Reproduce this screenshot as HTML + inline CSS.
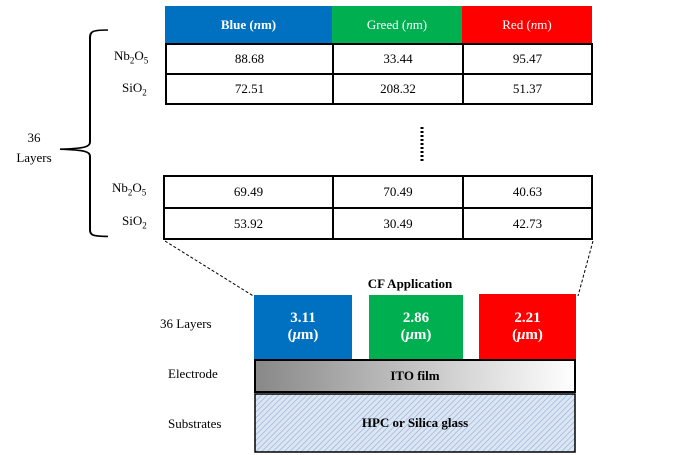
<!DOCTYPE html>
<html><head><meta charset="utf-8"><style>
body{margin:0;width:673px;height:455px;background:#fff;position:relative;overflow:hidden;font-family:"Liberation Serif",serif;}
.a{position:absolute;box-sizing:border-box;}
.c{display:flex;align-items:center;justify-content:center;text-align:center;}
.cell{border:2px solid #000;font-size:13px;}
.lbl{font-size:13px;}
</style></head><body>
<div class="a c" style="left:165px;top:6px;width:167px;height:37px;background:#0070c0;color:#fff;font-weight:bold;font-size:13px;"><span>Blue (<i>n</i>m)</span></div>
<div class="a c" style="left:332px;top:6px;width:130px;height:37px;background:#00b050;color:#fff;font-size:13px;"><span>Greed (<i>n</i>m)</span></div>
<div class="a c" style="left:462px;top:6px;width:130px;height:37px;background:#f00;color:#fff;font-size:13px;"><span>Red (<i>n</i>m)</span></div>

<div class="a c cell" style="left:165px;top:43px;width:169px;height:32px;">88.68</div>
<div class="a c cell" style="left:332px;top:43px;width:132px;height:32px;">33.44</div>
<div class="a c cell" style="left:462px;top:43px;width:131px;height:32px;">95.47</div>
<div class="a c cell" style="left:165px;top:73px;width:169px;height:32px;">72.51</div>
<div class="a c cell" style="left:332px;top:73px;width:132px;height:32px;">208.32</div>
<div class="a c cell" style="left:462px;top:73px;width:131px;height:32px;">51.37</div>

<svg class="a" style="left:419px;top:127px" width="6" height="36"><line x1="3" y1="0" x2="3" y2="36" stroke="#000" stroke-width="3" stroke-dasharray="2,2"/></svg>

<div class="a c cell" style="left:163px;top:175px;width:171px;height:34px;">69.49</div>
<div class="a c cell" style="left:332px;top:175px;width:132px;height:34px;">70.49</div>
<div class="a c cell" style="left:462px;top:175px;width:131px;height:34px;">40.63</div>
<div class="a c cell" style="left:163px;top:207px;width:171px;height:33px;">53.92</div>
<div class="a c cell" style="left:332px;top:207px;width:132px;height:33px;">30.49</div>
<div class="a c cell" style="left:462px;top:207px;width:131px;height:33px;">42.73</div>

<div class="a lbl" style="left:114px;top:48px;">Nb<sub style="font-size:9px">2</sub>O<sub style="font-size:9px">5</sub></div>
<div class="a lbl" style="left:122px;top:80px;">SiO<sub style="font-size:9px">2</sub></div>
<div class="a lbl" style="left:112px;top:180px;">Nb<sub style="font-size:9px">2</sub>O<sub style="font-size:9px">5</sub></div>
<div class="a lbl" style="left:122px;top:213px;">SiO<sub style="font-size:9px">2</sub></div>

<div class="a lbl" style="left:14px;top:128px;width:40px;text-align:center;line-height:20px;">36<br>Layers</div>

<svg class="a" style="left:0;top:0" width="673" height="455">
<path d="M108 50 C92 50 90 52 90 60 L90 190 C90 196 85 198 60 199 C85 200 90 202 90 208 L90 300 C90 306 92 308 108 308" fill="none" stroke="#000" stroke-width="2" transform="translate(0,-10) scale(1,0.8)"/>
<line x1="165" y1="241" x2="255" y2="297" stroke="#000" stroke-dasharray="3,2"/>
<line x1="593" y1="241" x2="578" y2="296" stroke="#000" stroke-dasharray="3,2"/>
<defs><pattern id="h" width="4" height="4" patternUnits="userSpaceOnUse" patternTransform="rotate(45)"><rect width="4" height="4" fill="#dce6f2"/><line x1="0" y1="0" x2="0" y2="4" stroke="#8eaadb" stroke-width="1.2"/></pattern>
<linearGradient id="g" x1="0" x2="1"><stop offset="0" stop-color="#888"/><stop offset="1" stop-color="#fff"/></linearGradient></defs>
<rect x="255" y="360" width="320" height="32" fill="url(#g)" stroke="#000" stroke-width="2"/>
<rect x="255" y="394" width="320" height="58" fill="url(#h)" stroke="#000" stroke-width="1.5"/>
</svg>

<div class="a" style="left:330px;top:276px;width:160px;text-align:center;font-weight:bold;font-size:13px;">CF Application</div>
<div class="a c" style="left:254px;top:295px;width:98px;height:64px;background:#0070c0;color:#fff;font-weight:bold;font-size:15px;line-height:17px;"><span>3.11<br>(<i>μ</i>m)</span></div>
<div class="a c" style="left:369px;top:295px;width:94px;height:64px;background:#00b050;color:#fff;font-weight:bold;font-size:15px;line-height:17px;"><span>2.86<br>(<i>μ</i>m)</span></div>
<div class="a c" style="left:479px;top:294px;width:97px;height:65px;background:#f00;color:#fff;font-weight:bold;font-size:15px;line-height:17px;"><span>2.21<br>(<i>μ</i>m)</span></div>
<div class="a c" style="left:255px;top:360px;width:320px;height:32px;font-weight:bold;font-size:13px;">ITO film</div>
<div class="a c" style="left:255px;top:394px;width:320px;height:58px;font-weight:bold;font-size:13px;">HPC or Silica glass</div>
<div class="a lbl" style="left:160px;top:316px;">36 Layers</div>
<div class="a lbl" style="left:168px;top:366px;">Electrode</div>
<div class="a lbl" style="left:168px;top:416px;">Substrates</div>
</body></html>
